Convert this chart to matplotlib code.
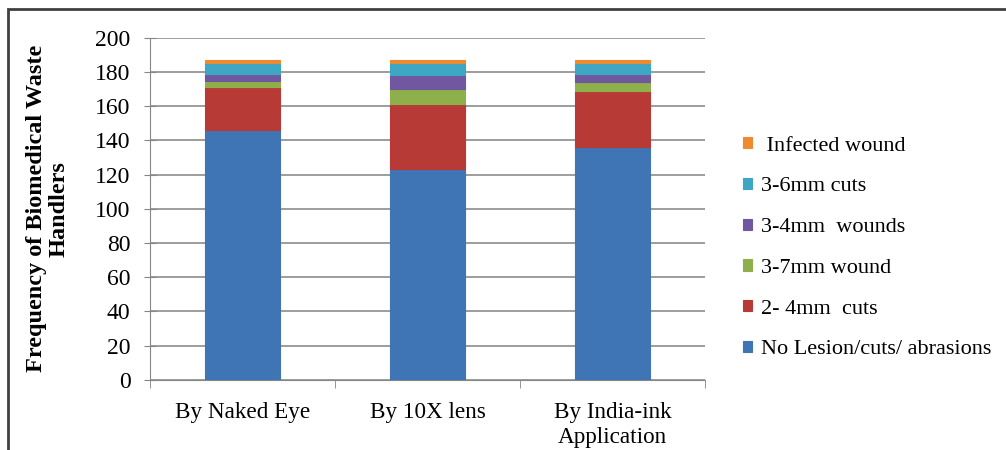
import numpy as np
import matplotlib
matplotlib.use("Agg")
import matplotlib.pyplot as plt
from matplotlib.patches import Rectangle

# Data
categories = ["By Naked Eye", "By 10X lens", "By India-ink\nApplication"]
no_lesion = [146, 123, 136]
cuts_2_4 = [25, 38, 33]
wound_3_7 = [4, 9, 5]
wounds_3_4 = [4, 8, 5]
cuts_3_6 = [6, 7, 6]
infected = [2, 2, 2]

series = [
    ("No Lesion/cuts/ abrasions", no_lesion, "#3F74B5"),
    ("2- 4mm  cuts", cuts_2_4, "#B83A37"),
    ("3-7mm wound", wound_3_7, "#8DB04A"),
    ("3-4mm  wounds", wounds_3_4, "#7157A0"),
    ("3-6mm cuts", cuts_3_6, "#3EA7C4"),
    (" Infected wound", infected, "#EE8A30"),
]

plt.rcParams["font.family"] = "Liberation Serif"

fig = plt.figure(figsize=(10.06, 4.5), dpi=100)
ax = fig.add_axes([0.149, 0.156, 0.552, 0.76])

x = np.arange(len(categories))
bottom = np.zeros(len(categories))
for name, vals, col in series:
    ax.bar(x, vals, width=0.405, bottom=bottom, color=col, label=name,
           edgecolor=col, linewidth=0.8, zorder=3)
    bottom += np.array(vals)

ax.set_ylim(0, 200)
ax.set_yticks(range(0, 201, 20))
ax.set_xlim(-0.5, 2.5)
ax.set_xticks(x)
ax.set_xticklabels(categories, fontsize=16.7, linespacing=1.25)
ax.set_xticks([-0.5, 0.5, 1.5, 2.5], minor=True)
ax.tick_params(axis="x", which="major", length=0, pad=16)
ax.tick_params(axis="x", which="minor", length=6, color="#868686", direction="out")
ax.tick_params(axis="y", labelsize=17, length=8, color="#868686", direction="inout", pad=10)

ax.grid(axis="y", color="#8c8c8c", linewidth=1.2, zorder=0)
for s in ["top", "right"]:
    ax.spines[s].set_visible(False)
ax.spines["left"].set_color("#868686")
ax.spines["bottom"].set_color("#868686")

ax.set_ylabel("Frequency of Biomedical Waste\nHandlers", fontsize=17.5,
              fontweight="bold", linespacing=1.15, labelpad=18)

handles, labels = ax.get_legend_handles_labels()
fig.legend(handles[::-1], labels[::-1], loc="center left",
           bbox_to_anchor=(0.728, 0.449), frameon=False, fontsize=16,
           borderpad=0, handlelength=0.4, handleheight=0.4, handletextpad=0.4,
           labelspacing=0.98)

# outer border
fig.patches.append(Rectangle((0.008, -0.05), 1.5, 1.03, transform=fig.transFigure,
                             fill=False, edgecolor="#404040", linewidth=2))

fig.savefig("out.png", dpi=100)
